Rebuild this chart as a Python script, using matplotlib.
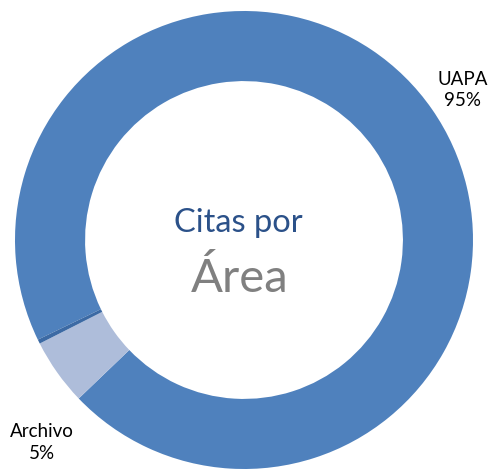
import matplotlib
matplotlib.use("Agg")
import matplotlib.pyplot as plt

# data
categories = ["UAPA", "Archivo", "Otros"]
values = [95.0, 4.7, 0.3]
colors = ["#4F81BD", "#AEBDDA", "#3C6AA4"]
show_label = [True, True, False]

# label placement (data units, pie radius = 1)
label_pos = {"UAPA": (0.956, 0.655), "Archivo": (-0.882, -0.886)}

fig = plt.figure(figsize=(4.89, 4.71), dpi=100)
ax = fig.add_axes([0, 0, 1, 1])
ax.axis("off")

wedges, _ = ax.pie(values, colors=colors, startangle=205.8, counterclock=False,
                   radius=1.0, wedgeprops=dict(width=0.306, linewidth=0))

for cat, val, show in zip(categories, values, show_label):
    if not show:
        continue
    x, y = label_pos[cat]
    ax.text(x, y, f"{cat}\n{val:.0f}%", ha="center", va="center",
            fontsize=13.5, family="Lato", color="#000000", linespacing=1.35)

ax.text(-0.025, 0.075, "Citas por", ha="center", va="center",
        fontsize=23.5, family="Lato", color="#2B5189")
ax.text(-0.02, -0.17, "Área", ha="center", va="center",
        fontsize=34, family="Lato", color="#808080")

ax.set_xlim(-244 / 229, 245 / 229)
ax.set_ylim(-231 / 229, 240 / 229)
ax.set_aspect("auto")

fig.savefig("out.png", dpi=100)
